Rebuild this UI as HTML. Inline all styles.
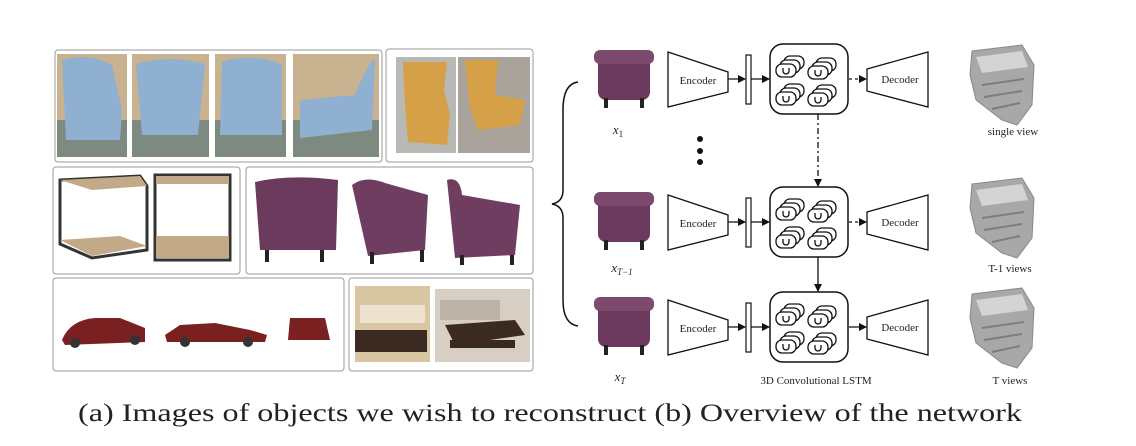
<!DOCTYPE html>
<html><head><meta charset="utf-8"><style>
html,body{margin:0;padding:0;background:#fff;}
svg{display:block;}
text{font-family:"Liberation Serif",serif;fill:#222;}
</style></head><body>
<svg width="1136" height="446" viewBox="0 0 1136 446" xmlns="http://www.w3.org/2000/svg">
<defs>
<g id="grp">
  <rect x="8" y="-8" width="20" height="13" rx="6" fill="#fff" stroke="#111" stroke-width="1.3"/>
  <rect x="4" y="-4" width="20" height="13" rx="6" fill="#fff" stroke="#111" stroke-width="1.3"/>
  <rect x="0" y="0" width="20" height="13" rx="6" fill="#fff" stroke="#111" stroke-width="1.3"/>
  <path d="M7 4 v3 a3 3 0 0 0 6 0 v-3" fill="none" stroke="#111" stroke-width="1.3"/>
</g>
<g id="lstm">
  <rect x="0" y="0" width="78" height="70" rx="13" fill="#fff" stroke="#111" stroke-width="1.5"/>
  <use href="#grp" x="6" y="20"/>
  <use href="#grp" x="38" y="22"/>
  <use href="#grp" x="6" y="48"/>
  <use href="#grp" x="38" y="49"/>
</g>
<g id="enc">
  <polygon points="0,0 60,20 60,40 0,55" fill="#fff" stroke="#111" stroke-width="1.3"/>
  <text x="30" y="32" font-size="11" text-anchor="middle">Encoder</text>
</g>
<g id="dec">
  <polygon points="0,17 61,0 61,55 0,39" fill="#fff" stroke="#111" stroke-width="1.3"/>
  <text x="33" y="31" font-size="11" text-anchor="middle">Decoder</text>
</g>
<g id="chair">
  <rect x="4" y="8" width="52" height="44" rx="8" fill="#6b3a5c"/>
  <rect x="0" y="2" width="60" height="14" rx="6" fill="#7b4a6c"/>
  <rect x="10" y="50" width="4" height="10" fill="#222"/>
  <rect x="46" y="50" width="4" height="10" fill="#222"/>
</g>
<g id="vox">
  <path d="M10 6 L60 0 L72 20 L70 60 L55 80 L40 75 L14 55 L8 30 Z" fill="#a8a8a8" stroke="#888"/>
  <path d="M14 12 L60 6 L66 22 L20 28 Z" fill="#d4d4d4"/>
  <path d="M20 40 L62 34 M22 52 L60 46 M30 64 L58 58" stroke="#7d7d7d" stroke-width="2"/>
</g>
<marker id="ah" markerWidth="8" markerHeight="8" refX="7" refY="4" orient="auto" markerUnits="userSpaceOnUse"><path d="M0,0 L8,4 L0,8 Z" fill="#111"/></marker>
</defs>

<g fill="#fff" stroke="#999" stroke-width="1">
<rect x="55" y="50" width="327" height="112" rx="3"/>
<rect x="386" y="49" width="147" height="113" rx="3"/>
<rect x="53" y="167" width="187" height="107" rx="3"/>
<rect x="246" y="167" width="287" height="107" rx="3"/>
<rect x="53" y="278" width="291" height="93" rx="3"/>
<rect x="349" y="278" width="184" height="93" rx="3"/>
</g>
<g>
<rect x="57" y="54" width="70" height="103" fill="#c9b28f"/><rect x="57" y="120" width="70" height="37" fill="#7d8a80"/>
<rect x="132" y="54" width="77" height="103" fill="#c9b28f"/><rect x="132" y="120" width="77" height="37" fill="#7d8a80"/>
<rect x="215" y="54" width="71" height="103" fill="#c9b28f"/><rect x="215" y="120" width="71" height="37" fill="#7d8a80"/>
<rect x="293" y="54" width="86" height="103" fill="#c9b28f"/><rect x="293" y="120" width="86" height="37" fill="#7d8a80"/>
<path d="M62 60 Q90 52 112 65 L122 110 L120 140 L66 140 Z" fill="#8fb0d0"/>
<path d="M136 64 Q170 54 205 64 L198 135 L142 135 Z" fill="#8fb0d0"/>
<path d="M222 62 Q250 52 282 64 L282 135 L220 135 Z" fill="#8fb0d0"/>
<path d="M300 100 L355 95 Q370 58 375 60 L372 130 L300 138 Z" fill="#8fb0d0"/>
<rect x="396" y="57" width="60" height="96" fill="#b8b8b4"/>
<rect x="458" y="57" width="72" height="96" fill="#a9a39c"/>
<path d="M403 62 L447 62 L444 90 L450 115 L447 145 L408 142 L405 105 Z" fill="#d6a048"/>
<path d="M465 60 L498 60 L495 95 L525 100 L520 125 L478 130 L470 108 Z" fill="#d6a048"/>
</g>
<g fill="none" stroke="#333" stroke-width="3">
<path d="M60 180 L140 176 L147 186 L147 250 L92 258 L60 244 Z"/>
<path d="M155 175 L230 175 L230 260 L155 260 Z"/>
</g>
<path d="M60 180 L140 176 L147 186 L92 190 Z" fill="#c2a987"/>
<path d="M60 240 L120 236 L147 246 L92 256 Z" fill="#c2a987"/>
<rect x="156" y="176" width="73" height="8" fill="#c2a987"/><rect x="156" y="236" width="73" height="22" fill="#c2a987"/>
<path d="M255 182 Q290 174 338 180 L336 250 L260 250 Z" fill="#6b3a5c"/>
<path d="M352 185 Q365 175 385 183 L428 195 L425 250 L368 256 Z" fill="#6e3d60"/>
<path d="M447 180 Q460 176 462 195 L520 205 L515 255 L455 258 Z" fill="#6e3d60"/>
<g fill="#222"><rect x="265" y="250" width="4" height="12"/><rect x="320" y="250" width="4" height="12"/><rect x="370" y="252" width="4" height="12"/><rect x="420" y="250" width="4" height="12"/><rect x="460" y="255" width="4" height="10"/><rect x="510" y="255" width="4" height="10"/></g>
<path d="M62 340 Q70 320 95 318 L120 318 L145 328 L145 342 L65 345 Z" fill="#7a2020"/>
<path d="M165 335 L180 325 L215 323 L250 330 L267 335 L265 342 L167 342 Z" fill="#7a2020"/>
<path d="M290 318 L325 318 L330 340 L288 340 Z" fill="#7a2020"/>
<g fill="#333"><circle cx="75" cy="343" r="5"/><circle cx="135" cy="340" r="5"/><circle cx="185" cy="342" r="5"/><circle cx="248" cy="342" r="5"/></g>
<rect x="355" y="286" width="75" height="76" fill="#d9c7a4"/>
<rect x="360" y="305" width="65" height="18" fill="#ece2cf"/>
<rect x="355" y="330" width="72" height="22" fill="#3a2a22"/>
<rect x="435" y="289" width="95" height="73" fill="#d8cfc4"/>
<rect x="440" y="300" width="60" height="20" fill="#bdb2a6"/>
<path d="M445 325 L515 320 L525 335 L455 345 Z" fill="#3a2a22"/>
<rect x="450" y="340" width="65" height="8" fill="#3a2a22"/>

<path d="M578 82 Q563 84 563 110 L563 190 Q563 202 552 204 Q563 206 563 218 L563 300 Q563 324 578 326" fill="none" stroke="#111" stroke-width="1.5"/>

<use href="#chair" x="594" y="48"/>
<use href="#enc" x="668" y="52"/>
<line x1="728" y1="79" x2="745" y2="79" stroke="#111" stroke-width="1.3" marker-end="url(#ah)"/>
<rect x="746" y="55" width="5" height="49" fill="#fff" stroke="#111" stroke-width="1.2"/>
<line x1="751" y1="79" x2="769" y2="79" stroke="#111" stroke-width="1.3" marker-end="url(#ah)"/>
<use href="#lstm" x="770" y="44"/>
<line x1="849" y1="79" x2="866" y2="79" stroke="#111" stroke-width="1.3" stroke-dasharray="3,3" marker-end="url(#ah)"/>
<use href="#dec" x="867" y="52"/>
<use href="#vox" x="962" y="45"/>
<text x="618" y="134" font-size="13" font-style="italic" text-anchor="middle">x<tspan font-size="9" dy="3" font-style="normal">1</tspan></text>
<text x="1013" y="135" font-size="11" text-anchor="middle">single view</text>
<g fill="#111"><circle cx="700" cy="139" r="3"/><circle cx="700" cy="151" r="3"/><circle cx="700" cy="162" r="3"/></g>
<line x1="818" y1="114" x2="818" y2="186" stroke="#111" stroke-width="1.3" stroke-dasharray="6,3,2,3" marker-end="url(#ah)"/>

<use href="#chair" x="594" y="190"/>
<use href="#enc" x="668" y="195"/>
<line x1="728" y1="222" x2="745" y2="222" stroke="#111" stroke-width="1.3" marker-end="url(#ah)"/>
<rect x="746" y="198" width="5" height="49" fill="#fff" stroke="#111" stroke-width="1.2"/>
<line x1="751" y1="222" x2="769" y2="222" stroke="#111" stroke-width="1.3" marker-end="url(#ah)"/>
<use href="#lstm" x="770" y="187"/>
<line x1="849" y1="222" x2="866" y2="222" stroke="#111" stroke-width="1.3" stroke-dasharray="3,3" marker-end="url(#ah)"/>
<use href="#dec" x="867" y="195"/>
<use href="#vox" x="962" y="178"/>
<text x="622" y="272" font-size="13" font-style="italic" text-anchor="middle">x<tspan font-size="9" dy="3">T−1</tspan></text>
<text x="1010" y="272" font-size="11" text-anchor="middle">T-1 views</text>
<line x1="818" y1="257" x2="818" y2="291" stroke="#111" stroke-width="1.3" marker-end="url(#ah)"/>

<use href="#chair" x="594" y="295"/>
<use href="#enc" x="668" y="300"/>
<line x1="728" y1="327" x2="745" y2="327" stroke="#111" stroke-width="1.3" marker-end="url(#ah)"/>
<rect x="746" y="303" width="5" height="49" fill="#fff" stroke="#111" stroke-width="1.2"/>
<line x1="751" y1="327" x2="769" y2="327" stroke="#111" stroke-width="1.3" marker-end="url(#ah)"/>
<use href="#lstm" x="770" y="292"/>
<line x1="849" y1="327" x2="866" y2="327" stroke="#111" stroke-width="1.3" marker-end="url(#ah)"/>
<use href="#dec" x="867" y="300"/>
<use href="#vox" x="962" y="288"/>
<text x="620" y="381" font-size="13" font-style="italic" text-anchor="middle">x<tspan font-size="9" dy="3">T</tspan></text>
<text x="816" y="384" font-size="11" text-anchor="middle">3D Convolutional LSTM</text>
<text x="1010" y="384" font-size="11" text-anchor="middle">T views</text>

<text x="550" y="421" font-size="25" text-anchor="middle" textLength="944" lengthAdjust="spacingAndGlyphs">(a) Images of objects we wish to reconstruct (b) Overview of the network</text>
</svg>
</body></html>
